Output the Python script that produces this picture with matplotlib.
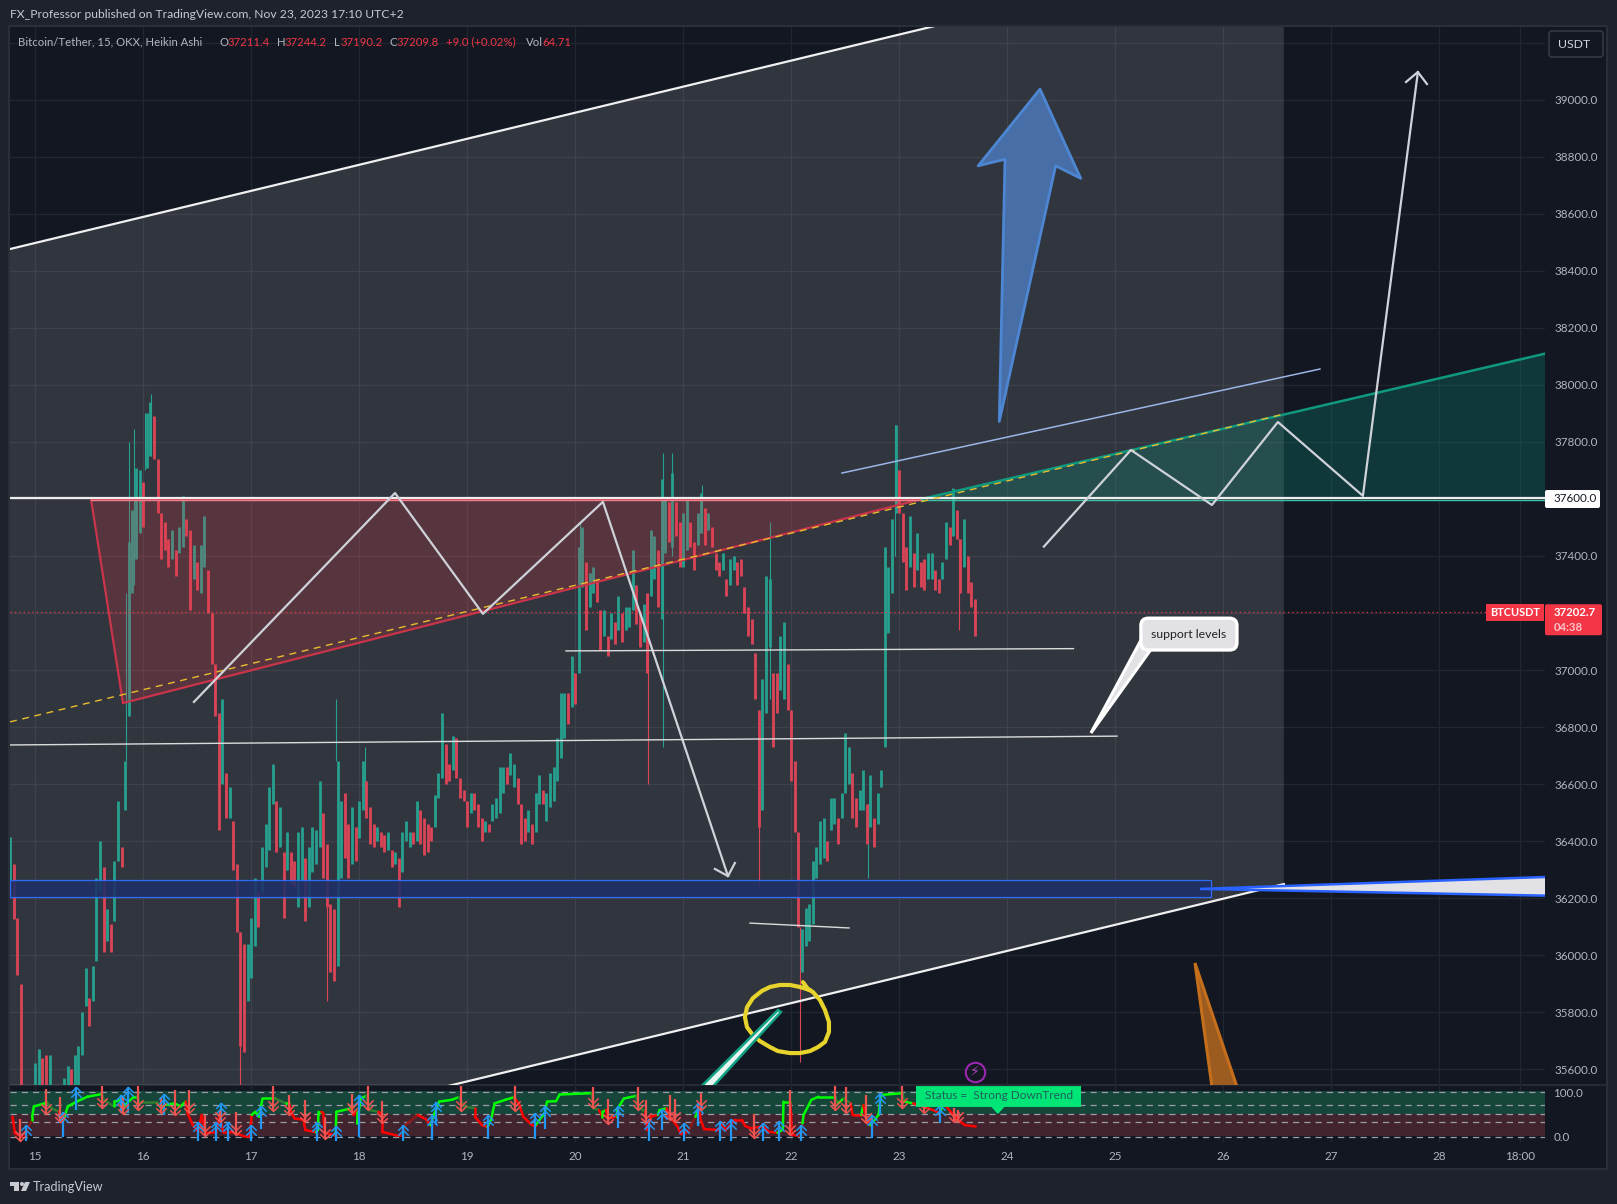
"""
BTC/USDT 15m Heikin Ashi chart with hand drawn trend annotations.
"""
import matplotlib
matplotlib.use("Agg")
import matplotlib.pyplot as plt
from matplotlib.patches import Polygon, Rectangle, FancyBboxPatch, Circle
from matplotlib.path import Path

# Data

# one bar every 1/30 day, starting at bar_start
bar_start = 14.766
bars_per_day = 30

bar_high = [
    36414, 36320, 36130, 35900, 35500, 35500, 35500, 35620, 35670, 35640,
    35650, 35650, 35480, 35480, 35480, 35570, 35610, 35600, 35650, 35680,
    35800, 35955, 35850, 35960, 36270, 36400, 36310, 36160, 36110, 36330,
    36540, 36380, 36680, 37450, 37560, 37710, 37700, 37660, 37900, 37940,
    37890, 37740, 37550, 37520, 37460, 37490, 37420, 37500, 37610, 37530,
    37490, 37440, 37380, 37440, 37540, 37350, 37200, 37020, 36850, 36900,
    36640, 36590, 36470, 36320, 36080, 36040, 36040, 36130, 36270, 36220,
    36380, 36460, 36590, 36670, 36540, 36520, 36360, 36430, 36360, 36330,
    36430, 36450, 36340, 36380, 36450, 36440, 36610, 36500, 36390, 36180,
    36160, 36680, 36540, 36570, 36460, 36520, 36450, 36540, 36680, 36610,
    36520, 36460, 36450, 36430, 36420, 36430, 36370, 36360, 36340, 36430,
    36470, 36430, 36430, 36540, 36510, 36480, 36460, 36450, 36560, 36640,
    36850, 36740, 36670, 36770, 36760, 36620, 36580, 36540, 36570, 36570,
    36530, 36480, 36470, 36460, 36530, 36550, 36660, 36660, 36660, 36710,
    36670, 36620, 36530, 36480, 36510, 36460, 36570, 36630, 36580, 36570,
    36640, 36660, 36760, 36920, 36920, 36920, 37050, 36990, 37430, 37500,
    37380, 37340, 37360, 37320, 37210, 37210, 37120, 37200, 37170, 37260,
    37200, 37220, 37220, 37420, 37300, 37200, 37230, 37270, 37490, 37470,
    37420, 37670, 37600, 37590, 37690, 37590, 37520, 37550, 37600, 37520,
    37450, 37550, 37620, 37570, 37550, 37500, 37410, 37380, 37410, 37320,
    37390, 37400, 37380, 37390, 37290, 37220, 37180, 37060, 36860, 36970,
    37330, 37320, 36990, 36990, 37120, 37170, 37020, 36860, 36680, 36430,
    36090, 36165, 36180, 36330, 36380, 36470, 36480, 36400, 36550, 36550,
    36480, 36570, 36780, 36730, 36640, 36550, 36580, 36650, 36530, 36630,
    36480, 36570, 36650, 37430, 37360, 37530, 37860, 37700, 37550, 37430,
    37540, 37410, 37480, 37380, 37390, 37410, 37410, 37350, 37320, 37380,
    37520, 37500, 37640, 37560, 37460, 37530, 37400, 37310, 37250,
]
bar_low = [
    36263, 36125, 35930, 35500, 35300, 35300, 35300, 35400, 35400, 35420,
    35400, 35400, 35300, 35300, 35300, 35400, 35400, 35420, 35500, 35500,
    35650, 35820, 35750, 35840, 35980, 36220, 36010, 36050, 36010, 36120,
    36330, 36310, 36510, 36840, 37270, 37390, 37480, 37500, 37710, 37750,
    37740, 37550, 37390, 37420, 37360, 37390, 37330, 37410, 37430, 37470,
    37210, 37320, 37280, 37270, 37360, 37200, 37020, 36840, 36440, 36600,
    36480, 36480, 36300, 36080, 35680, 35660, 35840, 35920, 36030, 36100,
    36220, 36310, 36370, 36530, 36360, 36380, 36130, 36300, 36250, 36240,
    36170, 36260, 36120, 36170, 36290, 36320, 36380, 36270, 36170, 35940,
    35910, 35960, 36270, 36340, 36270, 36320, 36330, 36410, 36510, 36480,
    36390, 36380, 36400, 36380, 36360, 36370, 36310, 36320, 36170, 36290,
    36400, 36380, 36390, 36400, 36390, 36350, 36360, 36400, 36450, 36550,
    36620, 36600, 36610, 36650, 36620, 36550, 36540, 36450, 36500, 36510,
    36450, 36400, 36430, 36430, 36470, 36480, 36500, 36570, 36600, 36630,
    36590, 36530, 36390, 36400, 36430, 36390, 36430, 36530, 36530, 36470,
    36520, 36540, 36610, 36690, 36760, 36810, 36870, 36880, 36990, 37290,
    37140, 37220, 37270, 37240, 37070, 37120, 37050, 37110, 37090, 37140,
    37100, 37140, 37150, 37210, 37160, 37080, 37100, 36990, 37260, 37320,
    37220, 37180, 37410, 37450, 37430, 37470, 37360, 37360, 37420, 37430,
    37350, 37440, 37480, 37440, 37490, 37430, 37350, 37330, 37350, 37260,
    37300, 37350, 37300, 37330, 37200, 37120, 37090, 36900, 36450, 36510,
    36850, 37080, 36730, 36850, 36930, 36900, 36860, 36610, 36430, 36100,
    35940, 36030, 36050, 36110, 36270, 36320, 36340, 36330, 36440, 36460,
    36390, 36480, 36570, 36600, 36480, 36450, 36510, 36510, 36390, 36450,
    36380, 36460, 36590, 36730, 37130, 37270, 37550, 37550, 37380, 37280,
    37360, 37290, 37350, 37290, 37280, 37320, 37320, 37280, 37270, 37320,
    37390, 37440, 37470, 37460, 37270, 37360, 37270, 37220, 37120,
]
bar_dir = (
    "grrrrrrggr" "rgrrrggrgg" "ggrgggrgrg" "grgggggrgg" "rrrrrgrggr"
    "rgrggrrrrg" "rgrrrrgggr" "ggggrgrgrr" "ggrggggrrr" "rggrrgrggr"
    "rrgrrgrgrg" "ggrgrrrrgg" "grrgrrrrgr" "rrgrggggrg" "grrrgrggrg"
    "gggggrgrgg" "rggrrgrgrg" "rgggrrgrgg" "rggrgrrggr" "rggrgrrrgr"
    "ggrrrrrrrg" "ggrrggrrrr" "gggggggrgg" "rgggrrggrg" "rggggggrrr"
    "grgrrggrrg" "grgrrgrrr"
)

# thin wicks poking out of the bar bodies
wick_day = [15.84, 15.868, 15.914, 16.016, 16.07, 16.895, 17.70, 17.78, 18.05, 20.04,
            20.67, 20.81, 20.90, 21.17, 21.70, 21.80, 22.08, 22.71, 22.96, 23.55]
wick_high = [37270, 37800, 37845, 37900, 37970, 36080, 36170, 36900, 36730, 37520,
             37270, 37760, 37760, 37650, 36860, 37520, 36100, 36530, 37860, 37460]
wick_low = [36680, 37200, 37300, 37700, 37750, 35544, 35840, 36680, 36500, 37300,
            36600, 36730, 37400, 37480, 36240, 36900, 35625, 36270, 37400, 37140]
wick_dir = "gggggrrggg" "rgggrgrggr"

# oscillator pane, line colour per segment: g green, d dim green, r red, m dim red
osc_day = [14.789, 14.812, 14.871, 14.905, 14.971, 14.971, 14.987, 15.086, 15.103, 15.152,
           15.219, 15.262, 15.301, 15.384, 15.483, 15.615, 15.632, 15.731, 15.731, 15.797,
           15.814, 15.913, 15.946, 15.963, 16.128, 16.178, 16.194, 16.293, 16.343, 16.393,
           16.409, 16.459, 16.508, 16.541, 16.575, 16.674, 16.707, 16.740, 16.806, 16.856,
           16.922, 16.988, 17.004, 17.037, 17.071, 17.104, 17.219, 17.319, 17.351, 17.368,
           17.401, 17.484, 17.500, 17.600, 17.616, 17.623, 17.649, 17.666, 17.682, 17.765,
           17.781, 17.788, 17.930, 17.947, 17.980, 17.980, 18.013, 18.063, 18.096, 18.178,
           18.211, 18.211, 18.327, 18.393, 18.426, 18.542, 18.625, 18.658, 18.691, 18.740,
           18.856, 18.922, 18.972, 19.071, 19.071, 19.137, 19.187, 19.220, 19.253, 19.352,
           19.435, 19.484, 19.518, 19.600, 19.633, 19.716, 19.739, 19.822, 19.855, 20.152,
           20.169, 20.219, 20.252, 20.252, 20.285, 20.301, 20.384, 20.384, 20.450, 20.566,
           20.582, 20.648, 20.665, 20.698, 20.764, 20.781, 20.847, 20.863, 20.946, 20.979,
           21.045, 21.112, 21.128, 21.145, 21.161, 21.194, 21.326, 21.359, 21.393, 21.475,
           21.541, 21.574, 21.624, 21.740, 21.789, 21.872, 21.922, 21.928, 21.988, 21.998,
           22.004, 22.071, 22.104, 22.114, 22.186, 22.252, 22.401, 22.434, 22.484, 22.550,
           22.567, 22.649, 22.666, 22.699, 22.732, 22.808, 22.831, 23.030, 23.046, 23.129,
           23.311, 23.376, 23.410, 23.542, 23.608, 23.707]
osc_val = [45, 8, 0, 8, 38, 45, 68, 75, 79, 64,
           56, 38, 68, 79, 90, 96, 83, 68, 79, 83,
           68, 90, 90, 77, 77, 64, 71, 75, 68, 79,
           53, 26, 11, 49, 8, 10, 45, 11, 11, 8,
           2, 2, 49, 56, 45, 86, 86, 75, 75, 56,
           41, 38, 15, 10, 15, 56, 56, 53, 8, 4,
           4, 56, 64, 49, 56, 30, 86, 92, 60, 56,
           49, 11, 4, 4, 26, 49, 38, 26, 49, 79,
           83, 89, 68, 64, 45, 26, 22, 38, 75, 83,
           89, 71, 45, 26, 26, 53, 79, 80, 95, 98,
           64, 60, 45, 56, 60, 41, 45, 60, 86, 92,
           68, 56, 15, 45, 49, 60, 64, 49, 23, 6,
           11, 45, 53, 68, 38, 17, 15, 30, 15, 38,
           38, 24, 19, 23, 11, 9, 16, 79, 79, 53,
           4, 2, 30, 49, 83, 90, 90, 75, 86, 75,
           49, 49, 71, 38, 26, 49, 94, 98, 79, 75,
           60, 53, 75, 38, 26, 23]
osc_col = ("rrrrmggggd" "drggggddgg" "gggdddgggg" "rrrrrrrrrr" "rrrggggdgr"
           "rrrrgggrrr" "rggrrgggdd" "rrrrmmrrgg" "ggddrrrggg" "grrrrggggg"
           "ddrggrrggg" "ddrrrggrrr" "rmggrrrrrr" "rrrrrrgggr" "rrmggggdgd"
           "rrgrrgggdg" "rrgrrr")

up_day = [14.911, 15.255, 15.377, 15.797, 15.857, 16.188, 16.508, 16.674, 16.723, 16.789,
          16.998, 17.087, 17.606, 17.781, 17.996, 18.403, 18.674, 18.714, 19.190, 19.623,
          19.716, 20.400, 20.682, 20.804, 21.006, 21.138, 21.336, 21.442, 21.740, 21.882,
          22.087, 22.748, 22.824, 23.377]
up_base = [-9, 0, 60, 53, 53, 49, -9, -9, 23, -9,
           -9, 17, -9, -9, 0, -9, -8, 26, -6, -5,
           17, 20, -9, 15, -9, 24, -9, -9, -9, -9,
           -9, -4, 49, 30]
up_tip = [26, 56, 111, 94, 113, 96, 34, 34, 75, 34,
          26, 68, 34, 23, 94, 26, 49, 79, 49, 53,
          68, 69, 39, 62, 30, 75, 35, 39, 30, 35,
          26, 49, 98, 71]
down_day = [14.855, 15.103, 15.225, 15.615, 15.814, 15.953, 16.161, 16.293, 16.419, 16.575,
            16.713, 16.862, 17.203, 17.352, 17.494, 17.682, 17.930, 18.079, 18.211, 18.939,
            19.442, 20.162, 20.301, 20.582, 20.658, 20.873, 20.923, 21.168, 21.657, 21.988,
            22.401, 22.507, 22.692, 23.023, 23.228, 23.509, 23.542]
down_base = [39, 107, 89, 114, 90, 114, 90, 105, 105, 49,
             60, 56, 114, 94, 83, 45, 96, 114, 80, 114,
             114, 113, 84, 113, 83, 94, 84, 98, 51, 105,
             114, 111, 94, 114, 94, 64, 60]
down_tip = [-9, 51, 32, 64, 51, 60, 53, 49, 53, 2,
            34, 4, 58, 49, 34, -6, 53, 60, 30, 58,
            58, 65, 29, 60, 30, 38, 34, 60, -4, 4,
            59, 54, 30, 65, 54, 34, 34]
osc_levels = [100, 70.7, 50, 32, 0]

# drawing tools, (day, price)
channel_up_day, channel_up_price = [14.766, 26.561], [38477, 39555]
channel_low_day, channel_low_price = [14.766, 26.561], [35169, 36249]
red_day, red_price = [15.516, 15.812, 23.209], [37600, 36884, 37600]
green_day, green_price = [23.209, 29.5, 29.5], [37600, 38156, 37600]
yellow_day, yellow_price = [14.766, 26.561], [36818, 37898]
zig1_day = [16.469, 18.331, 19.145, 20.256, 21.414]
zig1_price = [36888, 37621, 37197, 37590, 36277]
zig1_head_day, zig1_head_price = [21.293, 21.414, 21.478], [36302, 36277, 36323]
zig2_day = [24.339, 25.145, 25.895, 26.506, 27.293, 27.802]
zig2_price = [37433, 37772, 37579, 37870, 37611, 39098]
zig2_head_day, zig2_head_price = [27.692, 27.802, 27.886], [39063, 39098, 39056]
blue_line_day, blue_line_price = [22.469, 26.895], [37691, 38056]
support1_day, support1_price = [19.914, 24.613], [37067, 37075]
support2_day, support2_price = [14.766, 25.016], [36737, 36768]
short_day, short_price = [21.618, 22.535], [36112, 36095]
zone_day, zone_low, zone_high = [14.766, 25.886], 36205, 36263
wedge_day, wedge_price = [25.784, 29.3, 29.3], [36232, 36278, 36206]
big_arrow_day = [23.926, 23.979, 23.731, 24.303, 24.680, 24.448]
big_arrow_price = [37872, 38792, 38769, 39038, 38725, 38769]
circle_day = [22.108, 22.154, 22.201, 22.266, 22.312, 22.349, 22.349, 22.312, 22.247, 22.173,
              22.080, 21.988, 21.876, 21.803, 21.710, 21.645, 21.590, 21.571, 21.590, 21.645,
              21.728, 21.803, 21.895, 21.988, 22.080, 22.173]
circle_price = [35905, 35881, 35870, 35842, 35807, 35765, 35730, 35695, 35677, 35663,
                35656, 35656, 35663, 35677, 35698, 35719, 35747, 35782, 35817, 35849,
                35874, 35888, 35895, 35895, 35888, 35877]
pen_day, pen_price = [21.877, 21.904, 21.16, 21.04], [35807, 35800, 35491, 35491]
orange_day, orange_price = [25.738, 26.2, 25.925], [35972, 35456, 35456]
tail_day, tail_price = [24.775, 25.238, 25.321], [36779, 37105, 37067]

last_price = 37202.7
level_price = 37600.0
price_ticks = list(range(35600, 39001, 200))
covered_ticks = [37200, 37600]
day_ticks = list(range(15, 29))
time_ticks = day_ticks + [28.75]
time_labels = [str(d) for d in day_ticks] + ["18:00"]

# Colours

OUTER = "#1e222d"
PANE = "#131722"
GRID = "#22262f"
TEXT = "#b2b5be"
UP = "#26a08f"
DOWN = "#dc4558"
RED = "#f23645"
plt.rcParams["font.family"] = ["Lato", "DejaVu Sans"]

W, H = 1617, 1204
LEFT, RIGHT = 10, 1545
MAIN_TOP, MAIN_BOT = 27, 1085
OSC_BOT = 1142
xlim = (14.766, 28.979)
ylim = (35544, 39256)
osc_lim = (-12, 116.4)


def box(x0, y0, x1, y1):
    return [x0 / W, 1 - y1 / H, (x1 - x0) / W, (y1 - y0) / H]


def price_y(p):
    return MAIN_TOP + (ylim[1] - p) / (ylim[1] - ylim[0]) * (MAIN_BOT - MAIN_TOP)


fig = plt.figure(figsize=(W / 100, H / 100), dpi=100, facecolor=OUTER)

# page furniture, pixel coords
back = fig.add_axes([0, 0, 1, 1], zorder=0)
back.set_xlim(0, W)
back.set_ylim(H, 0)
back.axis("off")
back.add_patch(Rectangle((LEFT - 1, MAIN_TOP - 1), 1598, 1143, fc=PANE, ec="#2a2e39", lw=1.5))

main = fig.add_axes(box(LEFT, MAIN_TOP, RIGHT, MAIN_BOT), zorder=2, facecolor="none")
main.set_xlim(*xlim)
main.set_ylim(*ylim)
osc = fig.add_axes(box(LEFT, MAIN_BOT, RIGHT, OSC_BOT), zorder=3, facecolor="none")
osc.set_xlim(*xlim)
osc.set_ylim(*osc_lim)

for a in (main, osc):
    for s in a.spines.values():
        s.set_visible(False)
    a.set_axisbelow(True)
    a.tick_params(length=0, colors=TEXT, labelsize=8.4)
    a.yaxis.tick_right()

main.set_xticks(day_ticks + [28.75])
main.tick_params(axis="x", labelbottom=False)
main.set_yticks(price_ticks + [39200])
main.set_yticklabels(["" if p in covered_ticks else f"{p:.1f}" for p in price_ticks] + [""])
main.tick_params(axis="y", pad=6.5)
main.grid(True, color=GRID, lw=1)
osc.set_xticks(time_ticks)
osc.set_xticklabels(time_labels)
osc.tick_params(axis="x", pad=6.5)
osc.grid(True, axis="x", color=GRID, lw=1)
osc.set_yticks([100, 0])
osc.set_yticklabels(["100.0", "0.0"])
osc.tick_params(axis="y", pad=6)
back.plot([LEFT - 1, 1607], [MAIN_BOT, MAIN_BOT], color="#2a2e39", lw=1.2)

# shaded channel behind everything
channel_x = channel_up_day + channel_low_day[::-1]
channel_y = channel_up_price + channel_low_price[::-1]
main.add_patch(Polygon(list(zip(channel_x, channel_y)), fc="white", alpha=0.13, ec="none", zorder=1))
main.plot(channel_up_day, channel_up_price, color="#f0f0f0", lw=1.6, zorder=7)
main.plot(channel_low_day, channel_low_price, color="#f0f0f0", lw=1.6, zorder=7)

# bars
bar_day = [bar_start + i / bars_per_day for i in range(len(bar_high))]
bar_col = [UP if c == "g" else DOWN for c in bar_dir]
wick_col = [UP if c == "g" else DOWN for c in wick_dir]
main.vlines(wick_day, wick_low, wick_high, colors=wick_col, lw=0.8, zorder=3)
main.vlines(bar_day, bar_low, bar_high, colors=bar_col, lw=2.0, zorder=3)

# level lines and filled shapes
main.add_patch(Polygon(list(zip(red_day, red_price)), fc=RED, alpha=0.2, ec="none", zorder=4))
main.add_patch(Polygon(list(zip(red_day, red_price)), fill=False, ec="#c9344a", lw=1.6, zorder=5))
main.add_patch(Polygon(list(zip(green_day, green_price)), fc="#089981", alpha=0.25, ec="none", zorder=4))
main.plot(green_day[:2], green_price[:2], color="#0f9a80", lw=1.8, zorder=5)
main.plot(xlim, [level_price + 2, level_price + 2], color="#eeeeee", lw=1.6, zorder=6)
main.plot(xlim, [last_price, last_price], color=RED, lw=0.9, ls=(0, (1, 2.5)), zorder=6)
main.plot(red_day[0:1] + red_day[2:], [level_price - 5, level_price - 5], color="#f0808c", lw=1.0, zorder=6)
main.plot([green_day[0], xlim[1]], [level_price - 5, level_price - 5], color="#3cc2aa", lw=1.0, zorder=6)
main.plot(yellow_day, yellow_price, color="#e8bd2e", lw=1.0, ls=(0, (5, 4)), zorder=6)

# blue zone
main.add_patch(Rectangle((zone_day[0], zone_low), zone_day[1] - zone_day[0], zone_high - zone_low,
                         fc="#1e3068", alpha=0.88, ec="none", zorder=4))
main.add_patch(Rectangle((zone_day[0], zone_low), zone_day[1] - zone_day[0], zone_high - zone_low,
                         fill=False, ec="#2f6df5", lw=0.9, zorder=5))
main.add_patch(Polygon(list(zip(wedge_day, wedge_price)), fc="#e2e2e6", ec="#2962ff", lw=1.8, zorder=8))

# drawn lines
pale = "#cfd2d9"
main.plot(zig1_day, zig1_price, color=pale, lw=1.6, zorder=7)
main.plot(zig1_head_day, zig1_head_price, color=pale, lw=1.6, zorder=7)
main.plot(zig2_day, zig2_price, color=pale, lw=1.6, zorder=7)
main.plot(zig2_head_day, zig2_head_price, color=pale, lw=1.6, zorder=7)
main.plot(blue_line_day, blue_line_price, color="#9bb6e6", lw=1.1, zorder=7)
main.plot(support1_day, support1_price, color="#dcdcdc", lw=1.0, zorder=7)
main.plot(support2_day, support2_price, color="#dcdcdc", lw=1.0, zorder=7)
main.plot(short_day, short_price, color="#dcdcdc", lw=1.0, zorder=7)

main.add_patch(Polygon(list(zip(big_arrow_day, big_arrow_price)), fc=(0.29, 0.46, 0.70, 0.9),
                       ec="#4d86d2", lw=2.0, joinstyle="round", zorder=8))
main.plot(circle_day, circle_price, color="#e6d32c", lw=3, solid_joinstyle="round",
          solid_capstyle="round", zorder=8)
main.add_patch(Polygon(list(zip(pen_day, pen_price)), fc="#e8f5f1", ec="#11a386", lw=1.8, zorder=8))
main.add_patch(Polygon(list(zip(orange_day, orange_price)), fc="#9c5c20", ec="#c56f1c", lw=2.2, zorder=8))

# support levels callout
main.add_patch(Polygon(list(zip(tail_day, tail_price)), fc="#e2e2e6", ec="white", lw=2.2, zorder=8))
main.text(25.682, 37126, "support levels", fontsize=8.8, color="#222222", ha="center", va="center",
          zorder=9, bbox=dict(boxstyle="round,pad=0.85,rounding_size=0.6", fc="#e2e2e6", ec="white", lw=2.4))

# lightning badge
main.plot([23.70], [35589], marker="o", ms=14, mfc="none", mec="#9c27b0", mew=1.5, zorder=9)
main.text(23.70, 35589, "\u26a1", color="#ab47bc", fontsize=10, family="DejaVu Sans",
          ha="center", va="center", zorder=9)

# oscillator pane
osc.axhspan(51.8, 103.7, color="#16453a", lw=0, zorder=1)
osc.axhspan(2.3, 51.8, color="#42242e", lw=0, zorder=1)
for lev in osc_levels:
    osc.axhline(lev, color="#9a9da5", lw=0.9, ls=(0, (5, 4)), zorder=2)

line_col = {"g": "#00ff00", "d": "#2e7d32", "r": "#ff0000", "m": "#8b1a1a"}
for i in range(1, len(osc_day)):
    osc.plot(osc_day[i - 1:i + 1], osc_val[i - 1:i + 1], color=line_col[osc_col[i]], lw=1.8,
             solid_capstyle="round", zorder=4)

up_mark = Path([(-1, -1), (0, 0), (1, -1)])
down_mark = Path([(-1, 1), (0, 0), (1, 1)])
osc.vlines(up_day, up_base, up_tip, colors="#2196f3", lw=1.6, zorder=5)
osc.vlines(down_day, down_base, down_tip, colors="#ef5350", lw=1.6, zorder=5)
osc.plot(up_day, up_tip, ls="none", marker=up_mark, ms=7.5, mfc="none", mec="#2196f3", mew=1.1, zorder=5)
osc.plot(up_day, [v - 11 for v in up_tip], ls="none", marker=up_mark, ms=7.5, mfc="none", mec="#2196f3",
         mew=1.1, zorder=5)
osc.plot(down_day, down_tip, ls="none", marker=down_mark, ms=7.5, mfc="none", mec="#ef5350", mew=1.1, zorder=5)
osc.plot(down_day, [v + 11 for v in down_tip], ls="none", marker=down_mark, ms=7.5, mfc="none", mec="#ef5350",
         mew=1.1, zorder=5)

# status label
status_day = [23.155, 24.683, 24.683, 23.973, 23.913, 23.853, 23.155]
status_val = [114, 114, 67, 67, 51, 67, 67]
osc.add_patch(Polygon(list(zip(status_day, status_val)), fc="#00e676", ec="none", zorder=8))
osc.text(23.237, 92, "Status =  Strong DownTrend", color="#1f5f5c", fontsize=8.5, va="center", zorder=9)

# overlay for header, footer and axis badges
top = fig.add_axes([0, 0, 1, 1], zorder=10, facecolor="none")
top.set_xlim(0, W)
top.set_ylim(H, 0)
top.axis("off")

top.text(10, 15, "FX_Professor published on TradingView.com, Nov 23, 2023 17:10 UTC+2",
         color="#c8cad0", fontsize=8.7, va="center")
legend_parts = [(18, "Bitcoin/Tether, 15, OKX, Heikin Ashi", TEXT), (219, "O", TEXT), (228, "37211.4", RED),
                (277, "H", TEXT), (285, "37244.2", RED), (334, "L", TEXT), (341, "37190.2", RED),
                (389, "C", TEXT), (397, "37209.8", RED), (446, "+9.0 (+0.02%)", RED),
                (526, "Vol", TEXT), (542, "64.71", RED)]
for lx, s, c in legend_parts:
    top.text(lx, 42, s, color=c, fontsize=8.2, va="center")

# USDT button
top.add_patch(FancyBboxPatch((1549, 31), 54, 26, boxstyle="round,pad=0,rounding_size=3", fc=PANE,
                             ec="#3a3e4a", lw=1))
top.text(1558, 44.5, "USDT", color="#d1d4dc", fontsize=8.8, va="center")

# level badge
ly = price_y(level_price)
top.add_patch(FancyBboxPatch((1545, ly - 9), 55, 18, boxstyle="round,pad=0,rounding_size=2", fc="white", ec="none"))
top.text(1554, ly, f"{level_price:.1f}", color="#131722", fontsize=8.4, va="center")

# last price badges
py = price_y(last_price)
top.add_patch(Rectangle((1486, py - 8), 58, 17, fc=RED, ec="none"))
top.text(1515, py + 0.5, "BTCUSDT", color="white", fontsize=7.9, weight="bold", ha="center", va="center")
top.add_patch(FancyBboxPatch((1545, py - 8), 57, 31, boxstyle="round,pad=0,rounding_size=2", fc=RED, ec="none"))
top.text(1554, py + 0.5, f"{last_price:.1f}", color="white", fontsize=8.2, weight="bold", va="center")
top.text(1554, py + 15, "04:38", color="#fbc4ca", fontsize=8.2, weight="bold", va="center")

# footer logo and name
top.add_patch(Polygon([(10, 1182), (19, 1182), (19, 1191), (14, 1191), (14, 1186), (10, 1186)], fc="#c8cad0", ec="none"))
top.add_patch(Circle((22, 1184), 2, fc="#c8cad0", ec="none"))
top.add_patch(Polygon([(21, 1191), (25, 1182), (30, 1182), (26, 1191)], fc="#c8cad0", ec="none"))
top.text(33, 1187, "TradingView", color="#c8cad0", fontsize=9.1, va="center")

fig.savefig("out.png", dpi=100, facecolor=OUTER)
